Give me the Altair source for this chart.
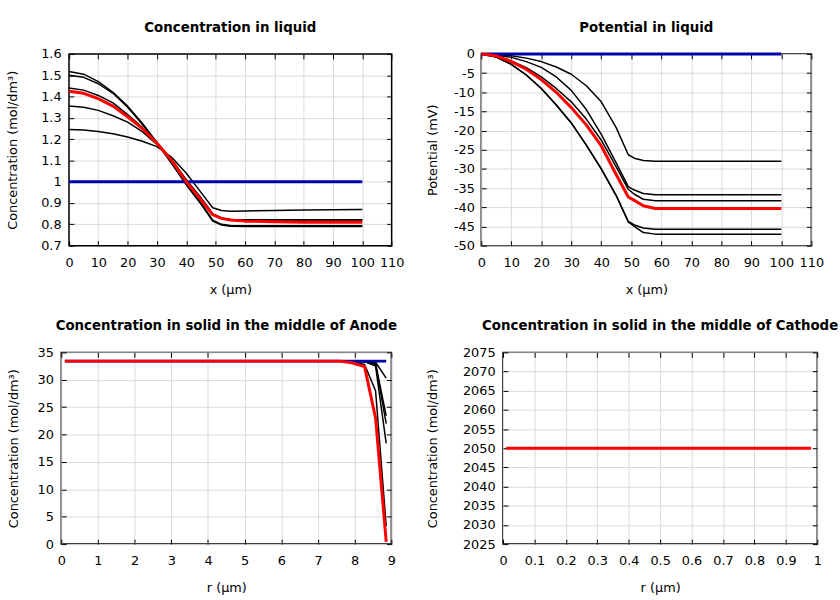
import altair as alt
import pandas as pd

FONT = "DejaVu Sans"
BLUE = "#0000aa"
RED = "#ff0000"

# ---------------- Concentration in liquid ----------------
liq_x = [0, 5, 10, 15, 20, 25, 30, 35, 40, 45, 49, 52, 55, 60, 70, 80, 90, 100]
liq_c1 = [1.517, 1.505, 1.47, 1.42, 1.355, 1.275, 1.185, 1.09, 0.99, 0.90, 0.82, 0.80, 0.795, 0.793, 0.793, 0.793, 0.793, 0.793]
liq_c2 = [1.50, 1.49, 1.46, 1.415, 1.35, 1.27, 1.18, 1.085, 0.985, 0.895, 0.815, 0.797, 0.791, 0.79, 0.79, 0.79, 0.79, 0.79]
liq_c3 = [1.44, 1.43, 1.405, 1.37, 1.315, 1.255, 1.185, 1.105, 1.01, 0.925, 0.85, 0.83, 0.823, 0.82, 0.82, 0.82, 0.82, 0.82]
liq_c4 = [1.355, 1.35, 1.335, 1.31, 1.28, 1.235, 1.175, 1.10, 1.005, 0.92, 0.848, 0.828, 0.823, 0.822, 0.822, 0.822, 0.822, 0.822]
liq_c5 = [1.245, 1.243, 1.236, 1.225, 1.21, 1.19, 1.165, 1.115, 1.04, 0.95, 0.878, 0.865, 0.861, 0.863, 0.865, 0.867, 0.868, 0.87]
liq_red = [1.425, 1.415, 1.39, 1.355, 1.305, 1.25, 1.18, 1.10, 1.0, 0.915, 0.845, 0.828, 0.82, 0.815, 0.812, 0.81, 0.81, 0.81]
liq_blue_x = [0, 100]
liq_blue = [1.0, 1.0]
liq_xdomain = [0, 110]
liq_ydomain = [0.7, 1.6]
liq_xticks = [0, 10, 20, 30, 40, 50, 60, 70, 80, 90, 100, 110]
liq_yticks = [0.7, 0.8, 0.9, 1.0, 1.1, 1.2, 1.3, 1.4, 1.5, 1.6]

# ---------------- Potential in liquid ----------------
pot_x = [0, 5, 10, 15, 20, 25, 30, 35, 40, 45, 49, 51, 54, 58, 100]
pot_p1 = [0, -0.1, -0.5, -1.1, -2.0, -3.4, -5.3, -8.3, -12.5, -19.3, -26.3, -27.2, -27.8, -28.0, -28.0]
pot_p2 = [0, -0.3, -0.9, -2.0, -3.5, -6.0, -9.5, -14.5, -21.0, -28.5, -34.6, -35.5, -36.4, -36.7, -36.7]
pot_p3 = [0, -0.5, -1.8, -3.6, -6.0, -9.0, -12.5, -17.0, -22.5, -29.5, -35.3, -36.6, -37.9, -38.3, -38.3]
pot_red = [0, -0.5, -2.0, -4.0, -6.7, -10.0, -14.0, -18.5, -24.0, -31.5, -37.3, -38.2, -39.6, -40.3, -40.3]
pot_p4 = [0, -0.8, -2.7, -5.5, -9.0, -13.3, -18.0, -23.8, -30.0, -37.0, -43.7, -44.6, -45.4, -45.7, -45.7]
pot_p5 = [0, -0.8, -2.7, -5.5, -9.0, -13.3, -18.0, -23.8, -30.0, -37.0, -43.8, -45.0, -46.6, -47.0, -47.0]
pot_blue_x = [0, 100]
pot_blue = [0.0, 0.0]
pot_yticks = [-50, -45, -40, -35, -30, -25, -20, -15, -10, -5, 0]

# ---------------- Solid, anode ----------------
an_r = [0.1, 7.6, 7.92, 8.27, 8.57, 8.86]
an_b1 = [33.4, 33.4, 33.4, 32.8, 28.0, 3.3]
an_b2 = [33.4, 33.4, 33.4, 33.3, 32.5, 18.4]
an_b3 = [33.4, 33.4, 33.4, 33.3, 32.8, 22.0]
an_b4 = [33.4, 33.4, 33.4, 33.35, 33.0, 23.4]
an_b5 = [33.4, 33.4, 33.4, 33.4, 33.2, 30.3]
an_red = [33.4, 33.4, 33.1, 32.4, 23.0, 0.4]
an_blue_r = [0.1, 8.86]
an_blue = [33.4, 33.4]
an_xticks = [0, 1, 2, 3, 4, 5, 6, 7, 8, 9]
an_yticks = [0, 5, 10, 15, 20, 25, 30, 35]

# ---------------- Solid, cathode ----------------
ca_r = [0.01, 0.98]
ca_red = [2050, 2050]
ca_xticks = [0, 0.1, 0.2, 0.3, 0.4, 0.5, 0.6, 0.7, 0.8, 0.9, 1]
ca_yticks = [2025, 2030, 2035, 2040, 2045, 2050, 2055, 2060, 2065, 2070, 2075]


def long_df(xs, series):
    rows = []
    for name, ys in series.items():
        for x, y in zip(xs, ys):
            rows.append({"x": x, "y": y, "s": name})
    return pd.DataFrame(rows)


LAB = "datum.value < 0 ? '-' + format(-datum.value, '~g') : format(datum.value, '~g')"


def panel(black_df, blue_df, red_df, xdom, ydom, xticks, yticks, title,
          xtitle, ytitle, w, h, ylp, ytp, lpad=0):
    if lpad:
        xs = alt.Scale(domain=xdom, nice=False, zero=False, range=[lpad, w + lpad])
    else:
        xs = alt.Scale(domain=xdom, nice=False, zero=False)
    ys = alt.Scale(domain=ydom, nice=False, zero=False)
    xax = alt.Axis(orient="bottom", values=xticks, title=xtitle, grid=True,
                   domain=False, tickSize=5, offset=-5, labelPadding=11,
                   titlePadding=14, labelExpr=LAB, labelFlush=False)
    yax = alt.Axis(orient="left", values=yticks, title=ytitle, grid=True,
                   domain=False, tickSize=5, offset=-(5 + lpad), labelPadding=ylp,
                   titlePadding=ytp, labelExpr=LAB, labelFlush=False)
    layers = []
    first = True
    if lpad:
        frame_df = pd.DataFrame({"x": [xdom[0]], "x2": [xdom[1]], "y": [ydom[0]], "y2": [ydom[1]]})
        layers.append(
            alt.Chart(frame_df).mark_rect(filled=False, stroke="black", strokeWidth=1.5).encode(
                x=alt.X("x:Q", scale=xs, axis=xax), x2="x2:Q",
                y=alt.Y("y:Q", scale=ys, axis=yax), y2="y2:Q",
            )
        )
        first = False
    for df, col, sw in [(black_df, "black", 1.5), (blue_df, BLUE, 3), (red_df, RED, 3)]:
        if df is None:
            continue
        enc = {}
        if first:
            enc["x"] = alt.X("x:Q", scale=xs, axis=xax)
            enc["y"] = alt.Y("y:Q", scale=ys, axis=yax)
            first = False
        else:
            enc["x"] = alt.X("x:Q", scale=xs, axis=None)
            enc["y"] = alt.Y("y:Q", scale=ys, axis=None)
        layers.append(
            alt.Chart(df).mark_line(color=col, strokeWidth=sw, strokeJoin="round")
            .encode(detail="s:N", **enc)
        )
    mirror = alt.Chart(red_df).mark_line(opacity=0).encode(
        x=alt.X("x:Q", scale=xs, axis=alt.Axis(orient="top", values=xticks, labels=False,
                                                title=None, grid=False, domain=False,
                                                tickSize=5, offset=-5)),
        y=alt.Y("y:Q", scale=ys, axis=alt.Axis(orient="right", values=yticks, labels=False,
                                                title=None, grid=False, domain=False,
                                                tickSize=5, offset=-5)),
        detail="s:N",
    )
    layers.append(mirror)
    props = dict(
        width=w + lpad, height=h,
        title=alt.TitleParams(title, anchor="middle", fontSize=13.5, fontWeight="bold",
                              font=FONT, color="black", offset=14, dx=lpad / 2),
    )
    if lpad:
        props["view"] = alt.ViewBackground(stroke="transparent")
    return alt.layer(*layers).properties(**props)


tl = panel(
    long_df(liq_x, {"c1": liq_c1, "c2": liq_c2, "c3": liq_c3, "c4": liq_c4, "c5": liq_c5}),
    long_df(liq_blue_x, {"b": liq_blue}),
    long_df(liq_x, {"r": liq_red}),
    liq_xdomain, liq_ydomain, liq_xticks, liq_yticks,
    "Concentration in liquid", "x (µm)", "Concentration (mol/dm³)",
    326.5, 194, 8, 21, lpad=7.8,
)
tr = panel(
    long_df(pot_x, {"p1": pot_p1, "p2": pot_p2, "p3": pot_p3, "p4": pot_p4, "p5": pot_p5}),
    long_df(pot_blue_x, {"b": pot_blue}),
    long_df(pot_x, {"r": pot_red}),
    [0, 110], [-50, 0], liq_xticks, pot_yticks,
    "Potential in liquid", "x (µm)", "Potential (mV)",
    334, 194, 7, 14,
)
bl = panel(
    long_df(an_r, {"b1": an_b1, "b2": an_b2, "b3": an_b3, "b4": an_b4, "b5": an_b5}),
    long_df(an_blue_r, {"b": an_blue}),
    long_df(an_r, {"r": an_red}),
    [0, 9], [0, 35], an_xticks, an_yticks,
    "Concentration in solid in the middle of Anode", "r (µm)", "Concentration (mol/dm³)",
    334, 194, 8, 17,
)
br = panel(
    None, None,
    long_df(ca_r, {"r": ca_red}),
    [0, 1], [2025, 2075], ca_xticks, ca_yticks,
    "Concentration in solid in the middle of Cathode", "r (µm)", "Concentration (mol/dm³)",
    318, 194, 8, 23,
)

chart = (
    alt.concat(tl, tr, bl, br, columns=2, spacing={"row": 21, "column": 21}, align="none")
    .properties(padding={"left": 6, "top": 16, "right": 0, "bottom": 0}, background="white")
    .configure_view(stroke="black", strokeWidth=1.5)
    .configure_axis(
        labelFont=FONT, titleFont=FONT, labelFontSize=13, titleFontSize=13,
        labelColor="black", titleColor="black", tickColor="black", tickWidth=1,
        gridColor="#d9d9d9", gridWidth=1, titleFontWeight="normal",
    )
)

chart.save("out.html", embed_options={"renderer": "svg", "actions": False})
